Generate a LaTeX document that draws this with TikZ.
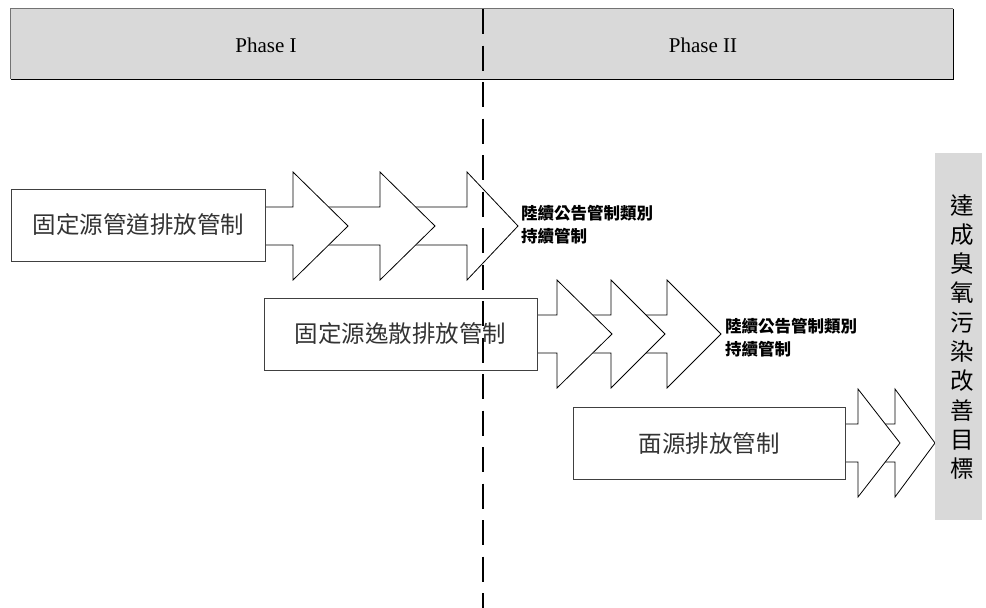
\documentclass[tikz,border=0pt]{standalone}
\usepackage{fontspec}
\setmainfont{Liberation Serif}
\newfontfamily\cjk{Noto Sans CJK TC}
\begin{document}
\begin{tikzpicture}[x=1pt,y=-1pt,
  hdrfill/.style={fill=black!15,draw=none},
  phasetext/.style={font=\fontsize{21}{24}\selectfont},
  srcbox/.style={draw=black!75,line width=0.9pt,fill=white,font=\cjk\fontsize{23.5}{28}\selectfont,text=black!80,inner sep=0pt},
  arrowshape/.style={draw=black,line width=0.8pt,fill=white,line join=miter},
  lbl/.style={anchor=west,align=left,font=\cjk\bfseries\fontsize{16.5}{23}\selectfont,inner sep=0pt},
  goalfill/.style={fill=black!15,draw=none,inner sep=0pt},
  goaltext/.style={align=center,font=\cjk\fontsize{23.5}{29.3}\selectfont,inner sep=0pt},
  divider/.style={line width=2pt,dash pattern=on 25pt off 11.5pt}
]
\useasboundingbox (0,0) rectangle (986,608);
\newcommand{\blockarrow}[4]{%
  \filldraw[arrowshape] (#1,#4-19) -- (#2,#4-19) -- (#2,#4-54) -- (#3,#4) -- (#2,#4+54) -- (#2,#4+19) -- (#1,#4+19) -- cycle;}

% header
\node[hdrfill,minimum width=942pt,minimum height=70pt,inner sep=0pt] (header) at (482,44) {};
\draw[black!55,line width=1.2pt] (header.south west) -- (header.north west) -- (header.north east);
\draw[black,line width=1.2pt] (header.north east) -- (header.south east) -- (header.south west);
\node[phasetext] (p1) at (266,45) {Phase I};
\node[phasetext] (p2) at (703,45) {Phase II};

% row 1
\blockarrow{380}{467}{518}{226}
\blockarrow{293}{380}{435}{226}
\blockarrow{200}{293}{348}{226}
\node[srcbox,minimum width=254pt,minimum height=72pt] (b1) at (138.5,225) {固定源管道排放管制};
\node[lbl] (l1) at (521,225) {陸續公告管制類別\\持續管制};

% row 2
\blockarrow{611}{667}{721}{334}
\blockarrow{557}{611}{665}{334}
\blockarrow{500}{557}{612}{334}
\node[srcbox,minimum width=273pt,minimum height=72pt] (b2) at (400.5,334) {固定源逸散排放管制};
\node[lbl] (l2) at (725,338) {陸續公告管制類別\\持續管制};

% row 3
\blockarrow{858}{895}{935}{443}
\blockarrow{800}{858}{900}{443}
\node[srcbox,minimum width=272pt,minimum height=72pt] (b3) at (709,443) {面源排放管制};

% goal
\node[goalfill,minimum width=47pt,minimum height=367pt] (goal) at (958.5,336.5) {};
\node[goaltext] (gt) at (962,337) {達\\成\\臭\\氧\\污\\染\\改\\善\\目\\標};

% divider
\coordinate (dtop) at (483,9);
\coordinate (dbot) at (483,608);
\draw[divider] (dtop) -- (dbot);
\end{tikzpicture}
\end{document}
